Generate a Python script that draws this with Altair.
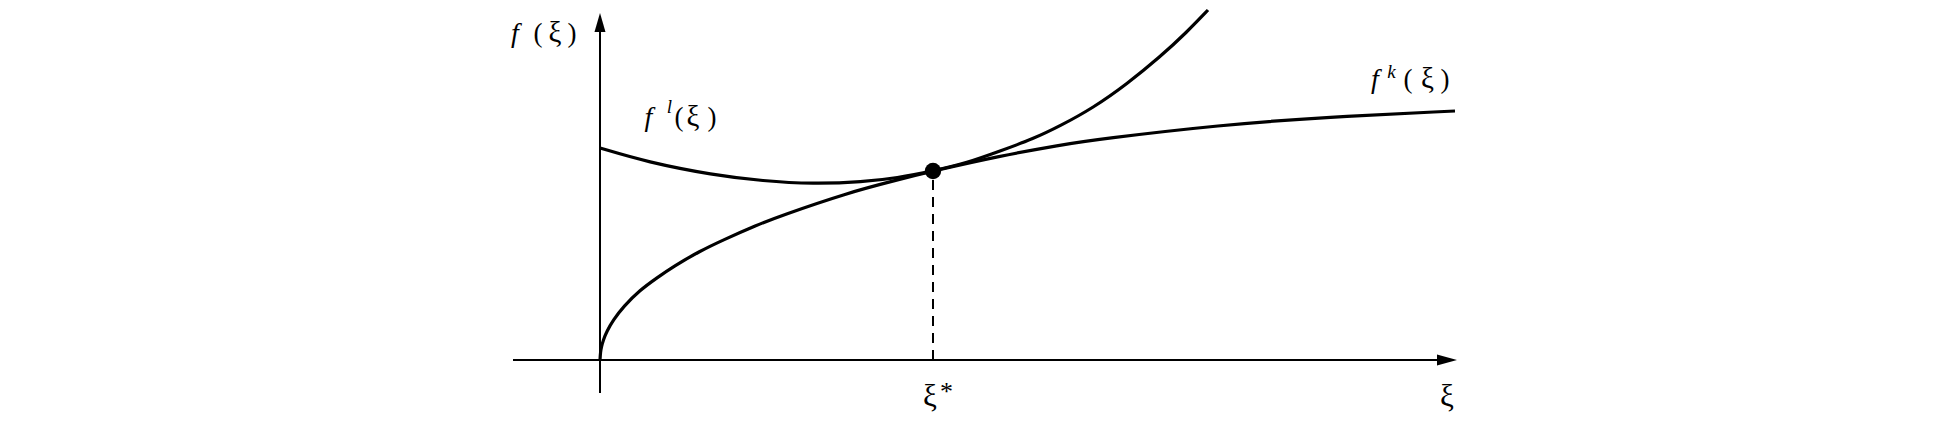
import altair as alt
import pandas as pd

# curve f^k(xi)
k_xi = [0, 0.005, 0.015, 0.033, 0.067, 0.133, 0.233, 0.40, 0.567, 0.733, 1.00, 1.23, 1.57, 1.80, 2.47, 2.97, 3.33, 4.00, 4.60, 5.00, 6.20, 7.27, 8.55]
k_f = [0, 0.08, 0.135, 0.20, 0.285, 0.40, 0.533, 0.70, 0.82, 0.935, 1.09, 1.20, 1.35, 1.44, 1.67, 1.80, 1.89, 2.04, 2.15, 2.21, 2.35, 2.43, 2.49]
# curve f^l(xi)
l_xi = [0, 0.47, 1.13, 1.63, 2.13, 2.63, 2.97, 3.33, 3.67, 4.00, 4.33, 4.60, 4.93, 5.27, 5.60, 5.87, 6.08]
l_f = [2.12, 1.98, 1.85, 1.79, 1.76, 1.78, 1.82, 1.89, 1.97, 2.09, 2.21, 2.34, 2.52, 2.76, 3.03, 3.28, 3.50]
# intersection point
star_xi = [3.33]
star_f = [1.89]
# axes extents
x_axis = [-0.87, 8.40]
y_axis = [-0.33, 3.30]
x_arrow = [8.47]
y_arrow = [3.375]

# labels: italic pieces
ital_text = ["f", "f", "l", "f", "k"]
ital_xi = [-0.85, 0.485, 0.695, 7.75, 7.915]
ital_f = [3.18, 2.34, 2.47, 2.72, 2.82]
ital_size = [28, 28, 19, 28, 19]
# labels: upright pieces
up_text = ["(", "ξ", ")", "(", "ξ", ")", "(", "ξ", ")", "ξ", "*", "ξ"]
up_xi = [-0.62, -0.45, -0.28, 0.79, 0.93, 1.12, 8.08, 8.275, 8.45, 3.30, 3.465, 8.47]
up_f = [3.18, 3.18, 3.18, 2.34, 2.34, 2.34, 2.72, 2.72, 2.72, -0.46, -0.40, -0.46]
up_size = [27, 29, 27, 27, 29, 27, 27, 29, 27, 31, 26, 31]

XD = [-5.92, 13.38]
YD = [-0.74, 3.52]
xs = alt.Scale(domain=XD, nice=False, zero=False)
ys = alt.Scale(domain=YD, nice=False, zero=False)

def X(f="x"):
    return alt.X(f"{f}:Q", scale=xs, axis=None)

def Y(f="y"):
    return alt.Y(f"{f}:Q", scale=ys, axis=None)

dk = pd.DataFrame({"x": k_xi, "y": k_f})
dl = pd.DataFrame({"x": l_xi, "y": l_f})

curve_k = alt.Chart(dk).mark_line(color="black", strokeWidth=3.2, interpolate="basis").encode(x=X(), y=Y(), order="x:Q")
curve_l = alt.Chart(dl).mark_line(color="black", strokeWidth=3.2, interpolate="basis").encode(x=X(), y=Y(), order="x:Q")

xax = alt.Chart(pd.DataFrame({"x": [x_axis[0]], "x2": [x_axis[1]], "y": [0]})).mark_rule(color="black", strokeWidth=2).encode(
    x=X(), x2="x2:Q", y=Y())
yax = alt.Chart(pd.DataFrame({"x": [0], "y": [y_axis[0]], "y2": [y_axis[1]]})).mark_rule(color="black", strokeWidth=2).encode(
    x=X(), y=Y(), y2="y2:Q")

xarr = alt.Chart(pd.DataFrame({"x": x_arrow, "y": [0]})).mark_point(
    shape="M1,0L-1,-0.55L-1,0.55Z", filled=True, color="black", size=400, opacity=1, strokeWidth=0).encode(x=X(), y=Y())
yarr = alt.Chart(pd.DataFrame({"x": [0], "y": y_arrow})).mark_point(
    shape="M0,-1L0.58,1L-0.58,1Z", filled=True, color="black", size=361, opacity=1, strokeWidth=0).encode(x=X(), y=Y())

dash = alt.Chart(pd.DataFrame({"x": star_xi, "y": [0], "y2": star_f})).mark_rule(
    color="black", strokeWidth=2, strokeDash=[10, 7]).encode(x=X(), y=Y(), y2="y2:Q")

dot = alt.Chart(pd.DataFrame({"x": star_xi, "y": star_f})).mark_point(
    shape="circle", filled=True, color="black", size=270, opacity=1).encode(x=X(), y=Y())

ital = alt.Chart(pd.DataFrame({"x": ital_xi, "y": ital_f, "t": ital_text, "s": ital_size})).mark_text(
    font="Liberation Serif", fontStyle="italic", align="center", baseline="alphabetic", color="black").encode(
    x=X(), y=Y(), text="t:N", size=alt.Size("s:Q", scale=None, legend=None))
up = alt.Chart(pd.DataFrame({"x": up_xi, "y": up_f, "t": up_text, "s": up_size})).mark_text(
    font="Liberation Serif", align="center", baseline="alphabetic", color="black").encode(
    x=X(), y=Y(), text="t:N", size=alt.Size("s:Q", scale=None, legend=None))

chart = alt.layer(xax, yax, xarr, yarr, dash, curve_l, curve_k, dot, ital, up).properties(
    width=1930, height=426, padding=0, autosize=alt.AutoSizeParams(type="none")
).configure_view(stroke=None)

chart.save("out.html", embed_options={"renderer": "svg", "actions": False})
